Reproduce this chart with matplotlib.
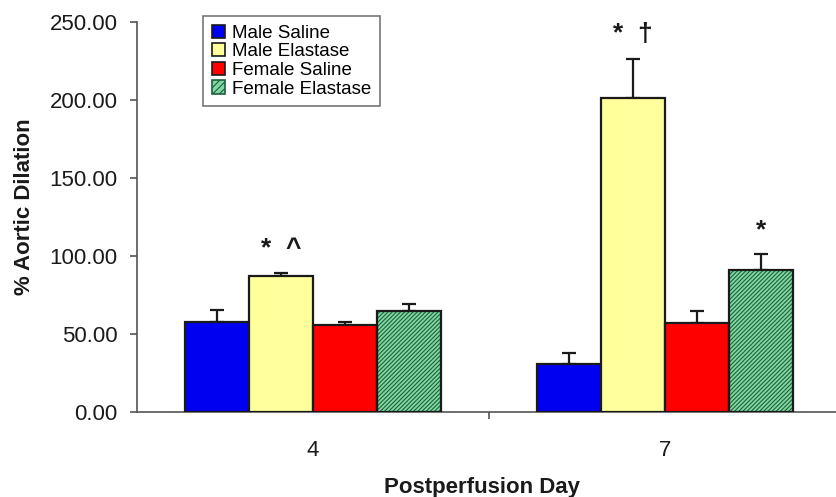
import matplotlib
matplotlib.use("Agg")
import matplotlib.pyplot as plt
import numpy as np
from matplotlib.patches import Patch

# values
DAYS = ["4", "7"]
GROUPS = ["Male Saline", "Male Elastase", "Female Saline", "Female Elastase"]
MALE_SALINE = [58.0, 31.0]
MALE_ELASTASE = [87.0, 201.0]
FEMALE_SALINE = [56.0, 57.0]
FEMALE_ELASTASE = [64.5, 91.0]
MALE_SALINE_ERR = [7.5, 7.0]
MALE_ELASTASE_ERR = [2.0, 25.5]
FEMALE_SALINE_ERR = [2.0, 7.5]
FEMALE_ELASTASE_ERR = [5.0, 10.0]
# (day index, group index, significance mark)
MARKS = [(0, 1, "*  ^"), (1, 1, "*  \u2020"), (1, 3, "*")]

FACES = ["#0000f0", "#ffff9c", "#ff0000", "#80d8a4"]
HATCHES = [None, None, None, "////////"]
HATCH_INK = "#1f5f3a"
INK = "#1a1a1a"
AXIS = "#555555"

plt.rcParams["font.family"] = ["Liberation Sans", "DejaVu Sans"]
plt.rcParams["hatch.linewidth"] = 0.8

fig = plt.figure(figsize=(8.36, 4.97), dpi=100)
ax = fig.add_axes([137 / 836, 85 / 497, 704 / 836, 390 / 497])

means = [MALE_SALINE, MALE_ELASTASE, FEMALE_SALINE, FEMALE_ELASTASE]
errs = [MALE_SALINE_ERR, MALE_ELASTASE_ERR, FEMALE_SALINE_ERR, FEMALE_ELASTASE_ERR]
x = np.arange(len(DAYS))
w = 0.182
offs = (np.arange(len(GROUPS)) - 1.5) * w

for gi in range(len(GROUPS)):
    xs = x + offs[gi]
    if HATCHES[gi]:
        ax.bar(xs, means[gi], w, color=FACES[gi], edgecolor=HATCH_INK,
               hatch=HATCHES[gi], lw=0, zorder=2)
        ax.bar(xs, means[gi], w, fill=False, edgecolor=INK, lw=1.6, zorder=3)
    else:
        ax.bar(xs, means[gi], w, color=FACES[gi], edgecolor=INK, lw=1.6, zorder=3)
    ax.errorbar(xs, means[gi], yerr=[np.zeros(len(DAYS)), errs[gi]], fmt="none",
                ecolor=INK, elinewidth=1.6, capsize=5, capthick=1.6, zorder=1)

for di, gi, txt in MARKS:
    top = means[gi][di] + errs[gi][di]
    ax.annotate(txt, (x[di] + offs[gi], top), xytext=(0, 9), textcoords="offset points",
                ha="center", va="bottom", fontsize=19, fontweight="bold", color=INK)

ax.set_xlim(-0.5, 1.5)
ax.set_ylim(0, 250)
ax.set_yticks(np.arange(0, 251, 50))
ax.set_yticklabels([f"{v:.2f}" for v in np.arange(0, 251, 50)])
ax.set_xticks(x)
ax.set_xticklabels(DAYS)
ax.set_xticks([0.5], minor=True)
ax.tick_params(axis="x", which="major", length=0, pad=20, labelsize=16, labelcolor=INK)
ax.tick_params(axis="x", which="minor", length=5, width=1.2, color=AXIS, direction="out")
ax.tick_params(axis="y", length=5, width=1.2, color=AXIS, pad=9, labelsize=16, labelcolor=INK)

for s in ["top", "right"]:
    ax.spines[s].set_visible(False)
for s in ["left", "bottom"]:
    ax.spines[s].set_color(AXIS)
    ax.spines[s].set_linewidth(1.2)

fig.text(25 / 836, 1 - 207 / 497, "% Aortic Dilation", rotation=90, ha="center",
         va="center", fontsize=16, fontweight="bold", color=INK)
fig.text(482 / 836, 1 - 487 / 497, "Postperfusion Day", ha="center", va="center",
         fontsize=16, fontweight="bold", color=INK)

handles = []
for gi, name in enumerate(GROUPS):
    if HATCHES[gi]:
        handles.append(Patch(facecolor=FACES[gi], edgecolor=HATCH_INK, hatch="/////", lw=1.2, label=name))
    else:
        handles.append(Patch(facecolor=FACES[gi], edgecolor=INK, lw=1.2, label=name))
leg = ax.legend(handles=handles, loc="upper left", bbox_to_anchor=(0.094, 1.015),
                fontsize=13.5, labelspacing=0.08, handlelength=0.7, handleheight=0.7,
                handletextpad=0.4, borderpad=0.45, fancybox=False, framealpha=1,
                edgecolor="#777777", borderaxespad=0)
leg.get_frame().set_linewidth(1.2)

fig.savefig("out.png", dpi=100)
